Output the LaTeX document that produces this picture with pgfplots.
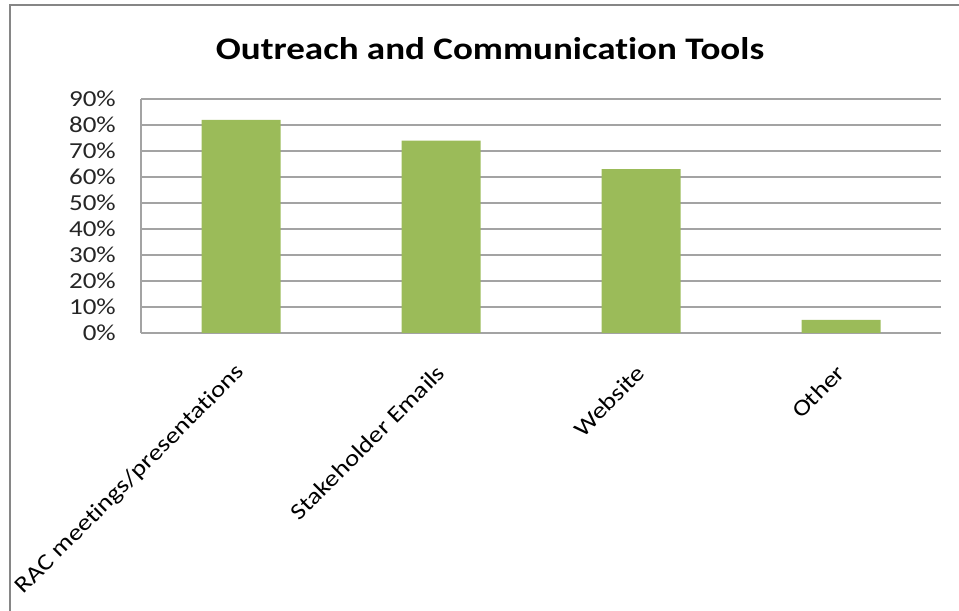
\documentclass[border=0pt]{standalone}
\usepackage{fontspec}
\setmainfont[FakeStretch=1.18, Ligatures=NoCommon]{Carlito}
\usepackage{pgfplots}
\pgfplotsset{compat=1.18}
\definecolor{barg}{HTML}{9BBB59}
\definecolor{gridg}{HTML}{A3A3A3}
\definecolor{frameg}{HTML}{868686}
\begin{document}
\begin{tikzpicture}[x=1bp,y=1bp]
\useasboundingbox (0,0) rectangle (959,611);
\draw[frameg, line width=2bp] (9.5,0) -- (9.5,605.5) -- (959,605.5);
\node[font=\bfseries\fontsize{31.5}{36}\selectfont, anchor=base] at (490,551) {Outreach and Communication Tools};
\begin{axis}[
  at={(141bp,278bp)}, anchor=south west, scale only axis,
  width=800bp, height=234bp,
  xmin=-0.5, xmax=3.5, ymin=0, ymax=90,
  axis x line*=bottom, axis y line*=left,
  axis line style={gridg, line width=1.5bp, -},
  ymajorgrids, grid style={gridg, line width=1.5bp},
  major tick length=0pt,
  ytick={0,10,20,30,40,50,60,70,80,90},
  yticklabels={0\%,10\%,20\%,30\%,40\%,50\%,60\%,70\%,80\%,90\%},
  yticklabel style={font=\fontsize{23}{26}\selectfont, inner sep=0pt, xshift=-25bp, text=black!85},
  xtick={0,1,2,3},
  xticklabels={RAC meetings/presentations, Stakeholder Emails, Website, Other},
  xticklabel style={font=\fontsize{23}{26}\selectfont, rotate=45, anchor=east, inner sep=0pt, text=black},
  xticklabel shift=36bp,
  ybar, bar width=79bp,
  clip=false,
]
\addplot[fill=barg, draw=none] coordinates {(0,82) (1,74) (2,63) (3,5)};
\end{axis}
\end{tikzpicture}
\end{document}
